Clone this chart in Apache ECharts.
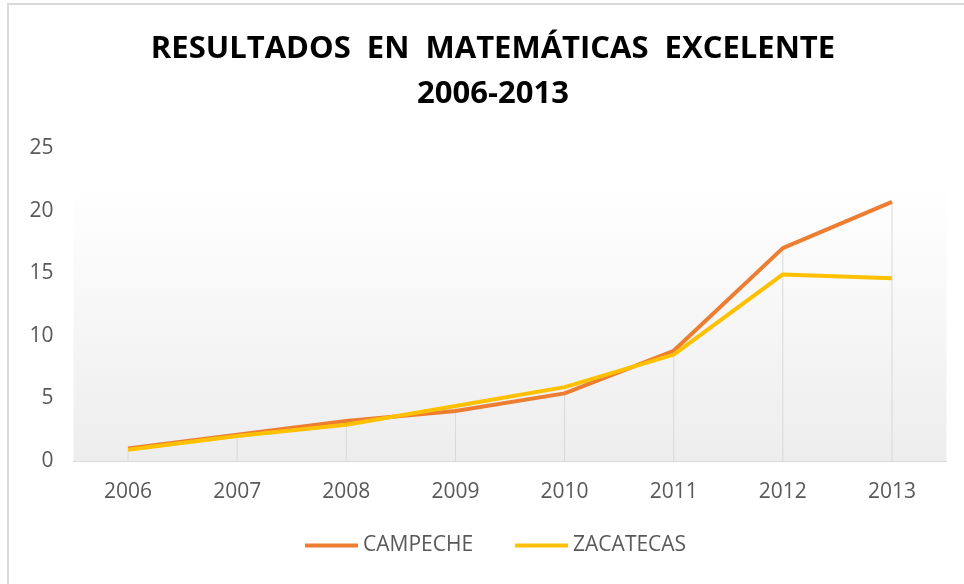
<!DOCTYPE html>
<html>
<head>
<meta charset="utf-8">
<script src="https://cdn.jsdelivr.net/npm/echarts@6/dist/echarts.min.js"></script>
<style>
html,body{margin:0;padding:0;background:#fff;}
#chart{width:964px;height:584px;}
</style>
</head>
<body>
<div id="chart"></div>
<script>
const titleText = 'RESULTADOS  EN  MATEMÁTICAS  EXCELENTE\n2006-2013';
const categories = ['2006','2007','2008','2009','2010','2011','2012','2013'];
const campeche = [1.0, 2.1, 3.2, 4.0, 5.4, 8.8, 17.0, 20.7];
const zacatecas = [0.9, 2.0, 2.9, 4.4, 5.9, 8.5, 14.9, 14.6];
const seriesNames = ['CAMPECHE', 'ZACATECAS'];
const dropLines = categories.map((c, i) => Math.max(campeche[i], zacatecas[i]));

const font = 'Open Sans';
const chart = echarts.init(document.getElementById('chart'));
chart.setOption({
  animation: false,
  backgroundColor: '#fff',
  graphic: [{
    type: 'rect', silent: true, z: -10,
    shape: {x: 8, y: 4, width: 1000, height: 700},
    style: {fill: 'none', stroke: '#d9d9d9', lineWidth: 2}
  }, {
    type: 'text', silent: true, z: 10,
    x: 493, y: 27,
    style: {
      text: titleText, textAlign: 'center', textVerticalAlign: 'top',
      fontFamily: font, fontWeight: 'bold', fontSize: 31, lineHeight: 45, fill: '#000'
    }
  }],
  grid: {
    left: 73.5, right: 17.5, top: 148, bottom: 123,
    show: true, borderWidth: 0,
    backgroundColor: new echarts.graphic.LinearGradient(0, 0, 0, 1, [
      {offset: 0, color: '#ffffff'},
      {offset: 0.12, color: '#ffffff'},
      {offset: 1, color: '#ededed'}
    ])
  },
  legend: {
    data: seriesNames,
    bottom: 23,
    left: 300,
    itemWidth: 53, itemHeight: 4, itemGap: 42,
    icon: 'rect',
    textStyle: {fontFamily: font, fontSize: 21, color: '#595959'}
  },
  xAxis: {
    type: 'category',
    data: categories,
    boundaryGap: true,
    axisLine: {lineStyle: {color: '#d9d9d9', width: 1}},
    axisTick: {show: false},
    axisLabel: {fontFamily: font, fontSize: 21, color: '#595959', margin: 21}
  },
  yAxis: {
    type: 'value',
    min: 0, max: 25, interval: 5,
    axisLine: {show: false},
    axisTick: {show: false},
    splitLine: {show: false},
    axisLabel: {fontFamily: font, fontSize: 21, color: '#595959', margin: 20}
  },
  series: [
    {
      type: 'bar', name: 'drop', data: dropLines, barWidth: 1, silent: true, z: 1,
      itemStyle: {color: '#d9d9d9'}
    },
    {
      type: 'line', name: seriesNames[0], data: campeche, showSymbol: false, z: 3,
      lineStyle: {width: 4, color: '#ED7D31'}, itemStyle: {color: '#ED7D31'}
    },
    {
      type: 'line', name: seriesNames[1], data: zacatecas, showSymbol: false, z: 4,
      lineStyle: {width: 4, color: '#FFC000'}, itemStyle: {color: '#FFC000'}
    }
  ]
});
</script>
</body>
</html>
